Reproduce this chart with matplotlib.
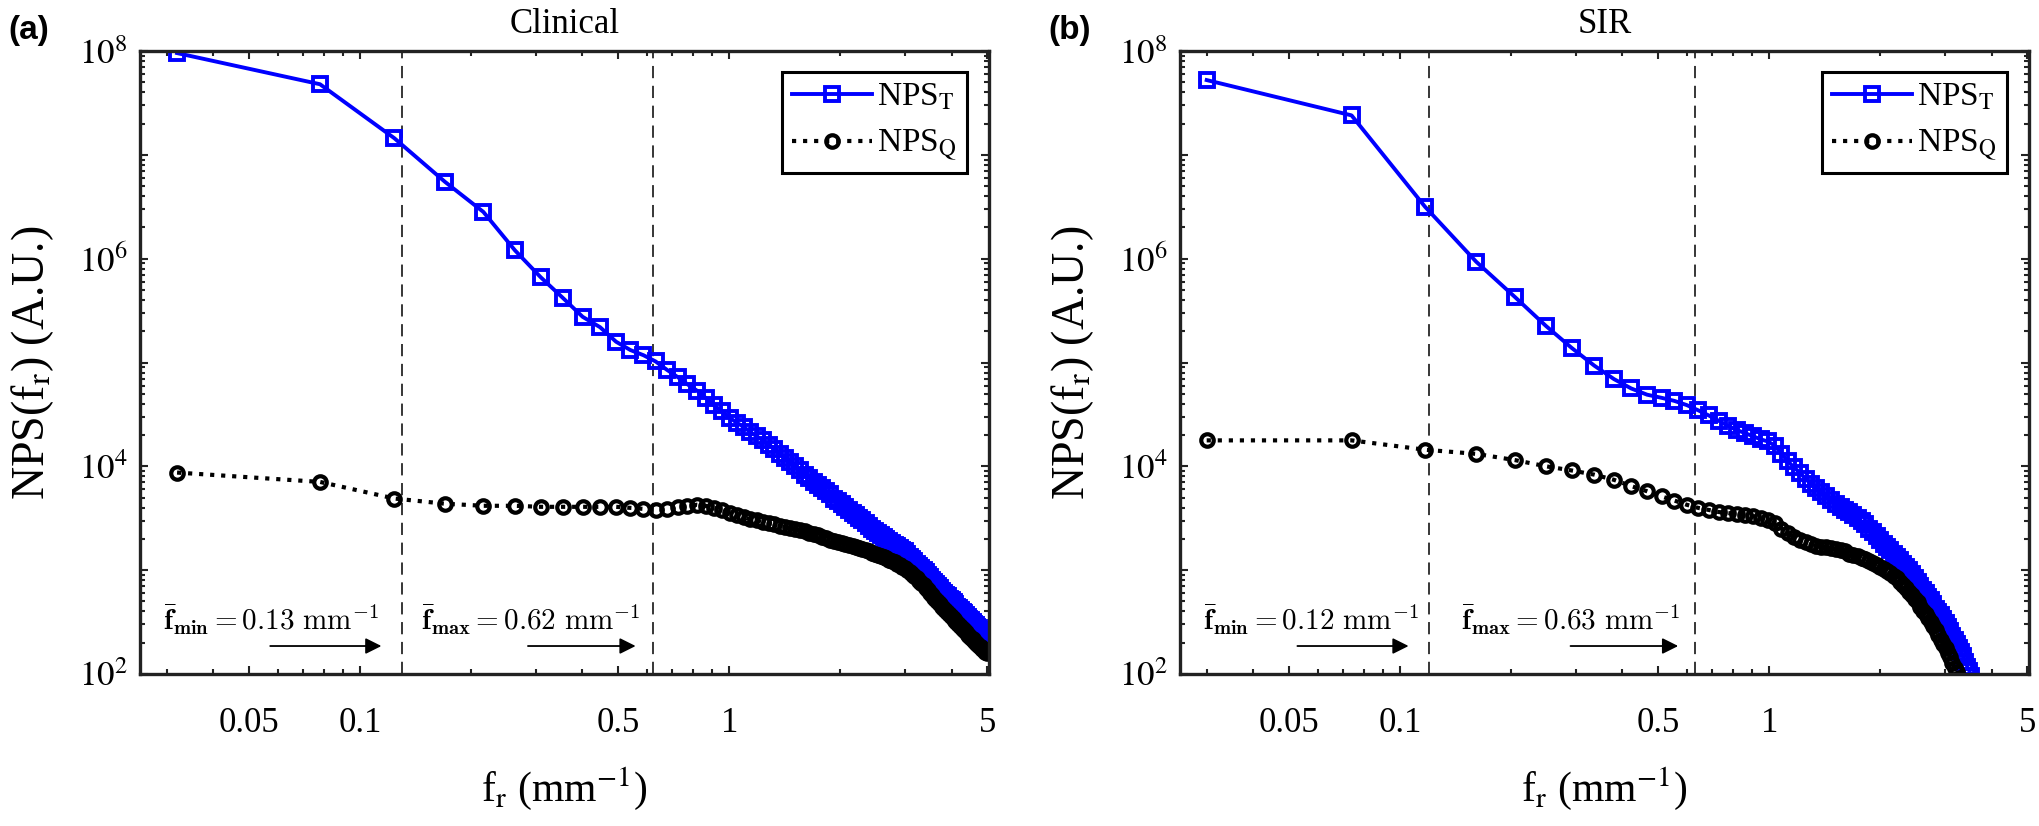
import numpy as np
import matplotlib
matplotlib.use("Agg")
import matplotlib.pyplot as plt
from matplotlib.ticker import FixedLocator, FixedFormatter, LogLocator, NullFormatter

plt.rcParams['font.family'] = 'Liberation Serif'
plt.rcParams['mathtext.fontset'] = 'stix'

# --- DATOS ---
# frecuencias radiales (mm^-1), panel Clinical
f_clin = [
    0.032, 0.078, 0.124, 0.170, 0.216, 0.263, 0.309, 0.355, 0.401, 0.447,
    0.494, 0.540, 0.586, 0.632, 0.678, 0.725, 0.771, 0.817, 0.863, 0.909,
    0.956, 1.002, 1.048, 1.094, 1.140, 1.187, 1.233, 1.279, 1.325, 1.371,
    1.418, 1.464, 1.510, 1.556, 1.602, 1.649, 1.695, 1.741, 1.787, 1.833,
    1.880, 1.926, 1.972, 2.018, 2.064, 2.111, 2.157, 2.203, 2.249, 2.295,
    2.342, 2.388, 2.434, 2.480, 2.526, 2.573, 2.619, 2.665, 2.711, 2.757,
    2.804, 2.850, 2.896, 2.942, 2.988, 3.035, 3.081, 3.127, 3.173, 3.219,
    3.266, 3.312, 3.358, 3.404, 3.450, 3.497, 3.543, 3.589, 3.635, 3.681,
    3.728, 3.774, 3.820, 3.866, 3.912, 3.959, 4.005, 4.051, 4.097, 4.143,
    4.190, 4.236, 4.282, 4.328, 4.374, 4.421, 4.467, 4.513, 4.559, 4.605,
    4.652, 4.698, 4.744, 4.790, 4.836, 4.883, 4.929, 4.975]

# log10 de NPS_T y NPS_Q (Clinical)
log_npsT_clin = [
    7.98, 7.68, 7.16, 6.74, 6.45, 6.08, 5.82, 5.62, 5.44, 5.34,
    5.20, 5.12, 5.07, 5.01, 4.93, 4.86, 4.79, 4.73, 4.66, 4.59,
    4.53, 4.47, 4.42, 4.38, 4.33, 4.29, 4.25, 4.21, 4.17, 4.12,
    4.08, 4.04, 4.00, 3.96, 3.92, 3.89, 3.85, 3.82, 3.79, 3.76,
    3.73, 3.69, 3.67, 3.64, 3.61, 3.58, 3.55, 3.53, 3.50, 3.48,
    3.45, 3.43, 3.40, 3.38, 3.36, 3.34, 3.32, 3.30, 3.28, 3.26,
    3.24, 3.23, 3.21, 3.19, 3.18, 3.16, 3.13, 3.11, 3.09, 3.06,
    3.04, 3.02, 3.00, 2.98, 2.95, 2.93, 2.91, 2.89, 2.87, 2.85,
    2.83, 2.80, 2.78, 2.76, 2.75, 2.72, 2.71, 2.69, 2.67, 2.65,
    2.64, 2.62, 2.60, 2.59, 2.57, 2.55, 2.53, 2.52, 2.50, 2.48,
    2.47, 2.45, 2.44, 2.42, 2.41, 2.39, 2.37, 2.36]

log_npsQ_clin = [
    3.94, 3.85, 3.69, 3.64, 3.62, 3.62, 3.61, 3.61, 3.61, 3.61,
    3.61, 3.60, 3.59, 3.58, 3.59, 3.61, 3.62, 3.63, 3.62, 3.60,
    3.58, 3.55, 3.53, 3.51, 3.49, 3.48, 3.46, 3.45, 3.44, 3.43,
    3.42, 3.41, 3.40, 3.39, 3.38, 3.36, 3.35, 3.34, 3.32, 3.31,
    3.29, 3.28, 3.27, 3.26, 3.25, 3.24, 3.23, 3.22, 3.21, 3.20,
    3.19, 3.18, 3.17, 3.16, 3.15, 3.14, 3.13, 3.12, 3.10, 3.09,
    3.08, 3.06, 3.05, 3.03, 3.02, 3.00, 2.98, 2.96, 2.94, 2.92,
    2.90, 2.88, 2.86, 2.83, 2.81, 2.78, 2.76, 2.73, 2.71, 2.69,
    2.67, 2.65, 2.63, 2.61, 2.59, 2.57, 2.55, 2.53, 2.51, 2.49,
    2.47, 2.45, 2.43, 2.42, 2.40, 2.38, 2.37, 2.35, 2.34, 2.32,
    2.30, 2.29, 2.27, 2.26, 2.24, 2.23, 2.21, 2.20]

# frecuencias radiales (mm^-1), panel SIR
f_sir = [
    0.030, 0.074, 0.117, 0.161, 0.205, 0.249, 0.292, 0.336, 0.380, 0.423,
    0.467, 0.511, 0.554, 0.598, 0.642, 0.686, 0.729, 0.773, 0.817, 0.860,
    0.904, 0.948, 0.991, 1.035, 1.079, 1.123, 1.166, 1.210, 1.254, 1.297,
    1.341, 1.385, 1.428, 1.472, 1.516, 1.560, 1.603, 1.647, 1.691, 1.734,
    1.778, 1.822, 1.865, 1.909, 1.953, 1.996, 2.040, 2.084, 2.128, 2.171,
    2.215, 2.259, 2.302, 2.346, 2.390, 2.433, 2.477, 2.521, 2.564, 2.608,
    2.652, 2.696, 2.739, 2.783, 2.827, 2.870, 2.914, 2.958, 3.001, 3.045,
    3.089, 3.133, 3.176, 3.220, 3.264, 3.307, 3.351, 3.395, 3.438, 3.482,
    3.526, 3.569, 3.613]

log_npsT_sir = [
    7.72, 7.38, 6.50, 5.97, 5.63, 5.35, 5.14, 4.97, 4.84, 4.75,
    4.69, 4.66, 4.63, 4.59, 4.54, 4.49, 4.44, 4.39, 4.35, 4.32,
    4.29, 4.26, 4.24, 4.20, 4.12, 4.05, 3.99, 3.94, 3.88, 3.83,
    3.79, 3.75, 3.71, 3.68, 3.64, 3.61, 3.58, 3.56, 3.53, 3.50,
    3.47, 3.44, 3.40, 3.37, 3.33, 3.29, 3.25, 3.22, 3.19, 3.16,
    3.13, 3.10, 3.06, 3.03, 3.00, 2.96, 2.92, 2.89, 2.85, 2.81,
    2.78, 2.74, 2.71, 2.67, 2.63, 2.60, 2.57, 2.53, 2.49, 2.45,
    2.41, 2.37, 2.33, 2.29, 2.25, 2.21, 2.17, 2.12, 2.07, 2.03,
    1.98, 1.92]

log_npsQ_sir = [
    4.25, 4.25, 4.16, 4.12, 4.06, 4.00, 3.96, 3.92, 3.87, 3.81,
    3.76, 3.71, 3.67, 3.63, 3.60, 3.58, 3.56, 3.55, 3.54, 3.53,
    3.52, 3.50, 3.48, 3.45, 3.40, 3.36, 3.32, 3.29, 3.27, 3.25,
    3.23, 3.22, 3.22, 3.21, 3.20, 3.19, 3.18, 3.16, 3.15, 3.14,
    3.12, 3.11, 3.09, 3.07, 3.05, 3.03, 3.01, 2.99, 2.97, 2.94,
    2.92, 2.89, 2.86, 2.83, 2.79, 2.76, 2.72, 2.69, 2.65, 2.61,
    2.58, 2.54, 2.50, 2.46, 2.42, 2.38, 2.33, 2.29, 2.25, 2.20,
    2.16, 2.11, 2.06, 2.02, 1.96]

titulos = ['Clinical', 'SIR']
letras = ['(a)', '(b)']
f_min = [0.13, 0.12]
f_max = [0.62, 0.63]

xticks_may = [0.05, 0.1, 0.5, 1, 5]
xticks_txt = ['0.05', '0.1', '0.5', '1', '5']
xticks_men = [0.03, 0.04, 0.06, 0.07, 0.08, 0.09, 0.2, 0.3, 0.4,
              0.6, 0.7, 0.8, 0.9, 2, 3, 4]
yticks_may = [1e2, 1e3, 1e4, 1e5, 1e6, 1e7, 1e8]
yticks_txt = [r'$10^{2}$', '', r'$10^{4}$', '', r'$10^{6}$', '', r'$10^{8}$']

COLOR_EJE = '#222222'


def dibujar_panel(ax, f, logT, logQ, fmin, fmax, titulo):
    ax.plot(f[:len(logT)], 10 ** np.array(logT), color='blue', lw=2.8,
            marker='s', ms=9.5, mfc='none', mew=2.8, label=r'NPS$_\mathrm{T}$')
    ax.plot(f[:len(logQ)], 10 ** np.array(logQ), color='black', ls=':', lw=3.0,
            marker='o', ms=9, mfc='none', mew=3.0, label=r'NPS$_\mathrm{Q}$')

    ax.set_xscale('log')
    ax.set_yscale('log')
    ax.set_xlim(0.0254, 5.05)
    ax.set_ylim(1e2, 1e8)

    # lineas de frecuencia min / max
    for fv in (fmin, fmax):
        ax.axvline(fv, color='k', lw=1.1, ls=(0, (8, 5)), zorder=1)

    # anotaciones
    ax.text(0.0294, 263, r'$\bar{\mathbf{f}}_{\mathbf{min}} = %.2f\ \mathrm{mm}^{-1}$' % fmin,
            math_fontfamily='cm', fontsize=21, ha='left', va='baseline')
    ax.text(0.146, 263, r'$\bar{\mathbf{f}}_{\mathbf{max}} = %.2f\ \mathrm{mm}^{-1}$' % fmax,
            math_fontfamily='cm', fontsize=21, ha='left', va='baseline')
    for x0, x1 in ((fmin * 0.44, fmin * 0.88), (fmax * 0.46, fmax * 0.90)):
        ax.annotate('', xy=(x1, 186), xytext=(x0, 186),
                    arrowprops=dict(arrowstyle='-|>', color='k', lw=1.3,
                                    mutation_scale=24, shrinkA=0, shrinkB=0))

    # ejes
    ax.xaxis.set_major_locator(FixedLocator(xticks_may))
    ax.xaxis.set_major_formatter(FixedFormatter(xticks_txt))
    ax.xaxis.set_minor_locator(FixedLocator(xticks_men))
    ax.xaxis.set_minor_formatter(NullFormatter())
    ax.yaxis.set_major_locator(FixedLocator(yticks_may))
    ax.yaxis.set_major_formatter(FixedFormatter(yticks_txt))
    ax.yaxis.set_minor_locator(LogLocator(base=10, subs=np.arange(2, 10), numticks=100))
    ax.yaxis.set_minor_formatter(NullFormatter())

    ax.tick_params(which='both', direction='in', top=True, right=True,
                   width=1.5, color=COLOR_EJE, labelsize=25)
    ax.tick_params(which='major', length=6)
    ax.tick_params(which='minor', length=3.5)
    ax.tick_params(axis='x', which='both', pad=24)
    ax.tick_params(axis='y', which='both', pad=9)
    for s in ax.spines.values():
        s.set_linewidth(2.4)
        s.set_color(COLOR_EJE)

    ax.set_xlabel(r'f$_\mathrm{r}$ (mm$^{\mathrm{-1}}$)', fontsize=30, labelpad=18)
    ax.set_ylabel(r'NPS(f$_\mathrm{r}$) (A.U.)', fontsize=33, labelpad=16)
    ax.set_title(titulo, fontsize=25, pad=13)

    leg = ax.legend(loc='upper right', bbox_to_anchor=(0.974, 0.966), borderaxespad=0,
                    fontsize=24, handlelength=2.4, handletextpad=0.15, borderpad=0.3,
                    labelspacing=0.45, fancybox=False, edgecolor='black', framealpha=1)
    leg.get_frame().set_linewidth(2.2)


fig = plt.figure(figsize=(20.4, 8.26), dpi=100)
ax_a = fig.add_axes([140 / 2040, 152 / 826, 849 / 2040, 623 / 826])
ax_b = fig.add_axes([1180 / 2040, 152 / 826, 849 / 2040, 623 / 826])

dibujar_panel(ax_a, f_clin, log_npsT_clin, log_npsQ_clin, f_min[0], f_max[0], titulos[0])
dibujar_panel(ax_b, f_sir, log_npsT_sir, log_npsQ_sir, f_min[1], f_max[1], titulos[1])

for xpos, letra in zip((8 / 2040, 1048 / 2040), letras):
    fig.text(xpos, 1 - 30 / 826, letra, fontsize=24, fontweight='bold',
             family='Liberation Sans', ha='left', va='center')

fig.savefig('out.png', dpi=100)
plt.close(fig)
